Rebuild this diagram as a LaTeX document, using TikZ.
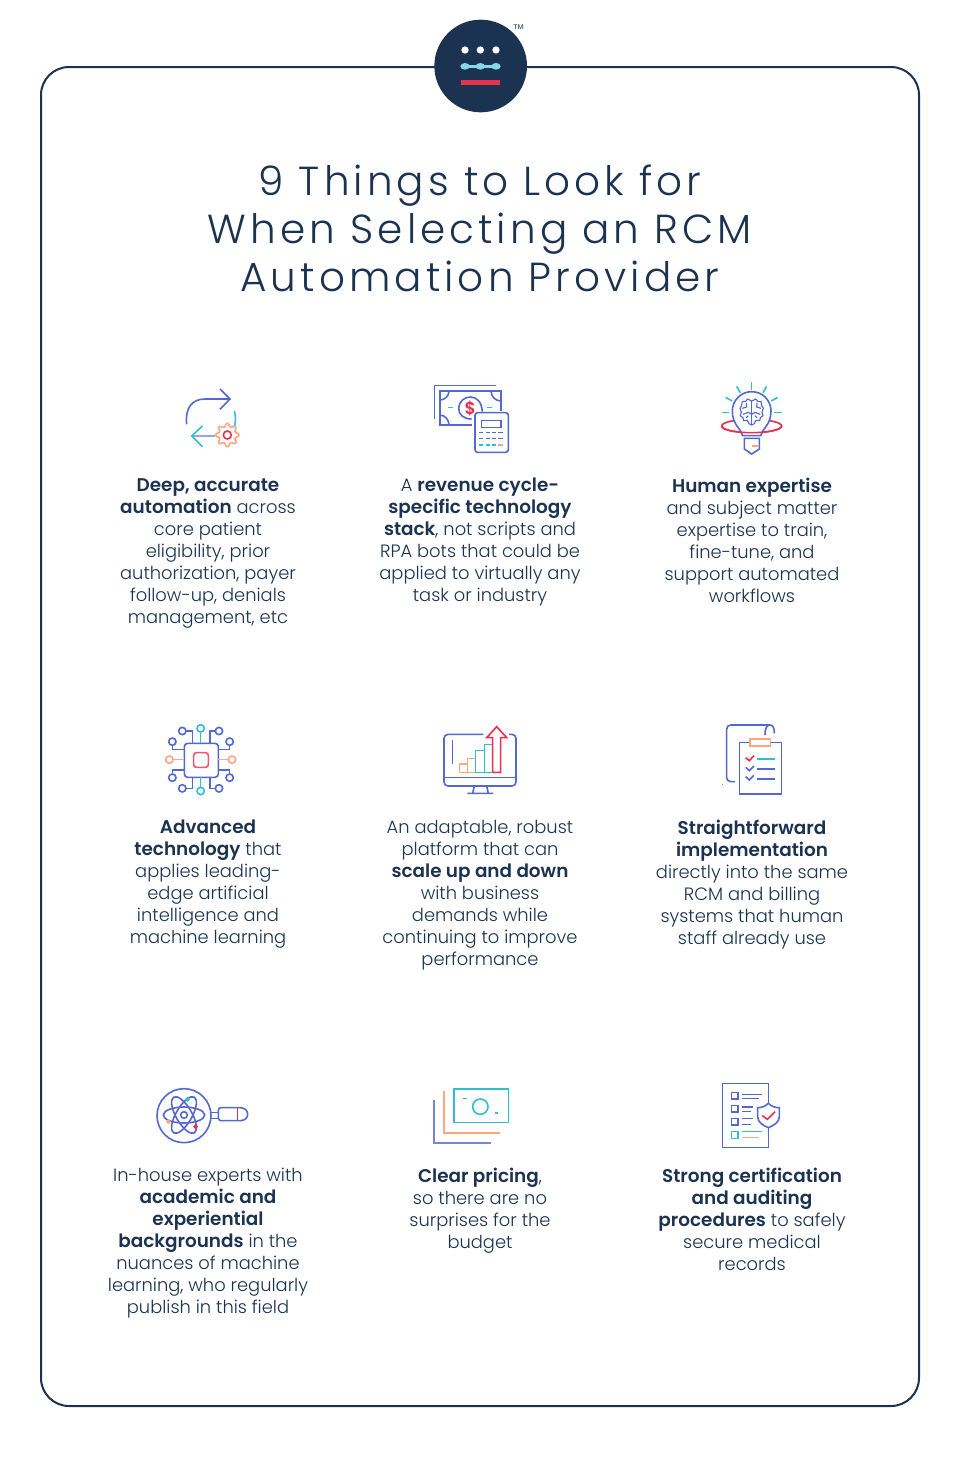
\documentclass[tikz,border=0pt]{standalone}
\usepackage{fontspec}
\setmainfont{Poppins Light}[BoldFont={Poppins SemiBold},BoldFeatures={Scale=1.03}]
\newfontfamily\titlefont{Poppins Light}[LetterSpace=10]
\usetikzlibrary{calc,positioning}
\definecolor{rcmnavy}{HTML}{1B3350}
\definecolor{rcmblue}{HTML}{5468D0}
\definecolor{rcmteal}{HTML}{2FBFCE}
\definecolor{rcmcoral}{HTML}{FFA680}
\definecolor{rcmred}{HTML}{E8304F}
\definecolor{rcmcyan}{HTML}{85D8E8}
\begin{document}
\begin{tikzpicture}[x=0.75pt, y=-0.75pt,
  txt/.style={font=\fontsize{13.4}{16.5}\selectfont, text=rcmnavy, align=center, anchor=north, inner sep=0pt, execute at begin node=\strut},
  title/.style={font=\titlefont\fontsize{30.4}{36}\selectfont, text=rcmnavy, align=center, anchor=north, inner sep=0pt, execute at begin node=\strut},
  ic/.style={draw=rcmblue, line width=1.2pt},
  icteal/.style={draw=rcmteal, line width=1.2pt},
  iccoral/.style={draw=rcmcoral, line width=1.2pt},
  icred/.style={draw=rcmred, line width=1.2pt},
  zoomed/.style={shift={#1}, scale=1/3}
]
  \useasboundingbox (0,0) rectangle (960,1457);
  \fill[white] (0,0) rectangle (960,1457);
  \draw[rcmnavy, line width=1.5pt, rounded corners=21pt] (41,67) rectangle (919,1406);

  % logo
  \begin{scope}[zoomed={(420,10)}]
    \fill[rcmnavy] (182,168) circle (139);
    \foreach \dotx in {135,181,228} {
      \fill[white] (\dotx,120) circle (11);
      \fill[rcmcyan] (\dotx,169) ellipse (14 and 10);
    }
    \draw[rcmcyan, line width=2pt] (135,169) -- (228,169);
    \fill[rcmred] (123,209) rectangle (240,226);
    \node[font=\fontsize{5}{5}\selectfont\bfseries, text=rcmnavy!70, inner sep=0pt] (tm) at (296,52) {TM};
  \end{scope}

  \node[title] (heading) at (480,165) {9 Things to Look for\\[0pt]When Selecting an RCM\\[0pt]Automation Provider};

  % row 1
  \begin{scope}[zoomed={(170,375)}]
    \draw[ic] (50,148) .. controls (45,100) and (65,72) .. (105,72) -- (180,72);
    \draw[ic] (150,42) -- (180,72) -- (150,103);
    \draw[ic, draw=rcmblue!60] (65,183) -- (135,183);
    \draw[icteal] (97,153) -- (65,183) -- (97,215);
    \draw[icteal] (193,108) .. controls (198,125) and (197,140) .. (193,158);
    \begin{scope}[shift={(172,180)}]
      \draw[iccoral, fill=white, rounded corners=0.8pt] (-12:26)
        \foreach \toothang in {0,45,...,315} {
          -- ({\toothang-12}:26) -- ({\toothang-8}:35) -- ({\toothang+8}:35) -- ({\toothang+12}:26)
        } -- cycle;
      \draw[icred] (0,0) circle (12);
    \end{scope}
  \end{scope}
  \node[txt] (deep) at (208,478) {\textbf{Deep, accurate}\\\textbf{automation} across\\core patient\\eligibility, prior\\authorization, payer\\follow-up, denials\\management, etc};

  \begin{scope}[zoomed={(425,375)}]
    \draw[ic] (28,132) -- (28,32) -- (212,32);
    \draw[ic] (140,150) -- (45,150) -- (45,48) -- (228,48) -- (228,108);
    \draw[ic] (45,75) .. controls (60,75) and (72,62) .. (72,48);
    \draw[ic] (198,48) .. controls (198,65) and (212,78) .. (228,78);
    \draw[ic] (45,120) .. controls (60,120) and (72,135) .. (72,150);
    \draw[ic] (140,132) .. controls (115,132) and (101,118) .. (101,100) .. controls (101,80) and (118,66) .. (136,66) .. controls (155,66) and (170,80) .. (172,110);
    \node[font=\fontsize{12.5}{13}\selectfont\bfseries, text=rcmred, inner sep=0pt] (dollar) at (136,100) {\$};
    \draw[icteal] (70,98) -- (84,98);
    \draw[icteal] (186,98) -- (200,98);
    \draw[ic, fill=white, rounded corners=2pt] (150,113) rectangle (250,232);
    \draw[ic] (170,137) rectangle (228,157);
    \foreach \rowy in {173,191} \foreach \keyx in {162,182,200,220} {
      \draw[ic] (\keyx,\rowy) -- ++(13,0);
    }
    \foreach \keyx in {162,182,200} \draw[icteal] (\keyx,210) -- ++(13,0);
    \draw[iccoral] (220,210) -- ++(13,0);
  \end{scope}
  \node[txt] (stack) at (480,478) {A \textbf{revenue cycle-}\\\textbf{specific technology}\\\textbf{stack}, not scripts and\\RPA bots that could be\\applied to virtually any\\task or industry};

  \begin{scope}[zoomed={(705,375)}]
    \foreach \rayang in {0,30,...,180} {
      \draw[icteal] ($(140,112)+({\rayang}:-68)$) -- ($(140,112)+({\rayang}:-90)$);
    }
    \draw[icred] (140,153) ellipse (90 and 20);
    \draw[ic, fill=white] (113,182) .. controls (108,160) and (82,150) .. (82,108) .. controls (82,76) and (108,50) .. (140,50) .. controls (172,50) and (198,76) .. (198,108) .. controls (198,150) and (172,160) .. (167,182) -- cycle;
    \draw[icred] (50,153) .. controls (50,164) and (90,173) .. (140,173) .. controls (190,173) and (230,164) .. (230,153);
    \draw[ic] (118,190) -- (118,222) -- (140,237) -- (163,222) -- (163,190) -- cycle;
    \draw[iccoral] (142,213) -- (158,213);
    \draw[ic, line width=0.85pt] plot[smooth cycle, tension=0.6] coordinates {(140,78) (128,72) (122,79) (112,80) (110,92) (105,100) (109,112) (106,122) (114,128) (116,137) (127,136) (132,146) (140,150) (148,146) (153,136) (164,137) (166,128) (174,122) (171,112) (175,100) (170,92) (168,80) (158,79) (152,72)};
    \draw[ic, line width=0.85pt] (140,78) -- (140,150);
    \draw[ic, line width=0.85pt] (112,100) -- (125,96) -- (124,84);
    \draw[ic, line width=0.85pt] (168,100) -- (155,96) -- (156,84);
    \draw[ic, line width=0.85pt] (114,118) -- (130,112) -- (140,118);
    \draw[ic, line width=0.85pt] (166,118) -- (150,112) -- (140,118);
    \draw[ic, line width=0.85pt] (124,128) -- (130,122);
    \draw[ic, line width=0.85pt] (156,128) -- (150,122);
  \end{scope}
  \node[txt] (human) at (752,478) {\textbf{Human expertise}\\and subject matter\\expertise to train,\\fine-tune, and\\support automated\\workflows};

  % row 2
  \begin{scope}[zoomed={(155,715)}]
    \draw[ic, rounded corners=2.5pt] (88,85) rectangle (190,187);
    \draw[icred, draw=rcmred!80, rounded corners=2pt] (116,113) rectangle (160,157);
    \draw[icteal] (137,51) -- (137,85) (137,187) -- (137,217);
    \draw[icteal] (137,40) circle (11) (137,228) circle (11);
    \draw[iccoral] (54,134) -- (88,134) (190,134) -- (220,134);
    \draw[iccoral] (43,134) circle (11) (231,134) circle (11);
    \draw[ic] (93,48) -- (113,48) -- (113,85);
    \draw[ic] (181,48) -- (165,48) -- (165,85);
    \draw[ic] (52,91) -- (52,103) -- (88,103);
    \draw[ic] (224,91) -- (224,103) -- (190,103);
    \draw[ic] (52,177) -- (52,165) -- (88,165);
    \draw[ic] (224,177) -- (224,165) -- (190,165);
    \draw[ic] (93,220) -- (113,220) -- (113,187);
    \draw[ic] (181,220) -- (165,220) -- (165,187);
    \foreach \nodex/\nodey in {82/48,192/48,52/80,224/80,52/188,224/188,82/220,192/220} {
      \draw[ic] (\nodex,\nodey) circle (11);
    }
  \end{scope}
  \node[txt] (chip) at (208,820) {\textbf{Advanced}\\\textbf{technology} that\\applies leading-\\edge artificial\\intelligence and\\machine learning};

  \begin{scope}[zoomed={(435,715)}]
    \draw[ic, rounded corners=3pt] (145,58) -- (27,58) -- (27,213) -- (243,213) -- (243,58) -- (222,58);
    \draw[ic] (27,187) -- (243,187);
    \draw[ic] (52,75) -- (52,147);
    \draw[ic] (118,213) -- (113,235) (155,213) -- (160,235) (97,235) -- (175,235);
    \draw[iccoral] (73,147) rectangle (98,172);
    \draw[iccoral] (98,147) -- (98,130) -- (122,130) -- (122,172) -- (98,172);
    \draw[icteal] (122,172) rectangle (148,107);
    \draw[icteal] (148,107) -- (148,88) -- (173,88) -- (173,172) -- (148,172);
    \draw[icred] (173,172) -- (197,172) -- (197,68) -- (215,68) -- (185,35) -- (155,68) -- (173,68) -- (173,172);
  \end{scope}
  \node[txt] (scale) at (480,820) {An adaptable, robust\\platform that can\\\textbf{scale up and down}\\with business\\demands while\\continuing to improve\\performance};

  \begin{scope}[zoomed={(710,715)}]
    \draw[ic, rounded corners=3pt] (75,200) -- (50,200) -- (50,30) -- (165,30);
    \draw[ic] (165,60) .. controls (165,40) and (170,30) .. (180,30) .. controls (190,30) and (193,40) .. (193,55);
    \draw[ic] (165,30) -- (180,30);
    \draw[ic] (120,82) -- (88,82) -- (88,237) -- (214,237) -- (214,82) -- (182,82);
    \draw[iccoral] (120,72) rectangle (182,93);
    \draw[icred] (107,128) -- (118,137) -- (132,122);
    \draw[ic] (107,157) -- (118,167) -- (132,153);
    \draw[ic] (107,185) -- (118,195) -- (132,181);
    \draw[icteal] (142,132) -- (195,132);
    \draw[ic] (142,162) -- (195,162);
    \draw[ic] (142,192) -- (195,192);
    \fill[rcmteal] (38,208) circle (2);
  \end{scope}
  \node[txt] (direct) at (752,820) {\textbf{Straightforward}\\\textbf{implementation}\\directly into the same\\RCM and billing\\systems that human\\staff already use};

  % row 3
  \begin{scope}[zoomed={(150,1075)}]
    \draw[ic] (102,122) circle (81);
    \draw[ic] (102,120) circle (10);
    \begin{scope}[shift={(102,120)}]
      \draw[ic] (0,0) ellipse (62 and 24);
      \draw[ic, rotate=60] (0,0) ellipse (62 and 24);
      \draw[ic, rotate=-60] (0,0) ellipse (62 and 24);
    \end{scope}
    \draw[icteal, fill=white] (112,73) circle (4.5);
    \draw[iccoral, fill=white] (55,140) circle (4.5);
    \draw[icred, fill=white] (137,155) circle (4.5);
    \draw[ic] (183,112) -- (205,112) (183,130) -- (205,130);
    \draw[ic, rounded corners=2pt] (270,98) -- (205,98) -- (205,137) -- (270,137);
    \draw[ic] (270,98) .. controls (285,98) and (293,107) .. (293,118) .. controls (293,128) and (285,137) .. (270,137);
    \draw[icred] (262,100) -- (262,135);
  \end{scope}
  \node[txt] (experts) at (208,1168) {In-house experts with\\\textbf{academic and}\\\textbf{experiential}\\\textbf{backgrounds} in the\\nuances of machine\\learning, who regularly\\publish in this field};

  \begin{scope}[zoomed={(425,1075)}]
    \draw[icteal] (87,42) rectangle (250,143);
    \draw[icteal] (166,95) circle (23);
    \draw[icteal] (115,71) -- (126,71) (210,114) -- (220,114);
    \draw[iccoral] (57,48) -- (57,174) -- (224,174);
    \draw[ic, draw=rcmblue!80] (27,76) -- (27,204) -- (197,204);
  \end{scope}
  \node[txt] (pricing) at (480,1168) {\textbf{Clear pricing},\\so there are no\\surprises for the\\budget};

  \begin{scope}[zoomed={(710,1075)}]
    \draw[ic] (176,85) -- (176,25) -- (38,25) -- (38,218) -- (176,218) -- (176,160);
    \foreach \boxy in {52,91,130} \draw[ic] (65,\boxy) rectangle (84,\boxy+20);
    \draw[icteal] (65,169) rectangle (84,190);
    \draw[ic] (97,58) -- (155,58) (97,71) -- (147,71);
    \draw[ic] (97,96) -- (130,96) (97,110) -- (124,110);
    \draw[ic] (97,131) -- (130,131) (97,148) -- (122,148);
    \draw[icteal] (97,170) -- (155,170);
    \draw[iccoral] (97,188) -- (147,188);
    \draw[ic, fill=white] (175,85) .. controls (165,95) and (153,98) .. (143,98) -- (143,125) .. controls (143,142) and (160,152) .. (175,158) .. controls (190,152) and (208,142) .. (208,125) -- (208,98) .. controls (197,98) and (185,95) .. (175,85) -- cycle;
    \draw[icred] (157,122) -- (172,133) -- (195,110);
  \end{scope}
  \node[txt] (records) at (752,1168) {\textbf{Strong certification}\\\textbf{and auditing}\\\textbf{procedures} to safely\\secure medical\\records};
\end{tikzpicture}
\end{document}
